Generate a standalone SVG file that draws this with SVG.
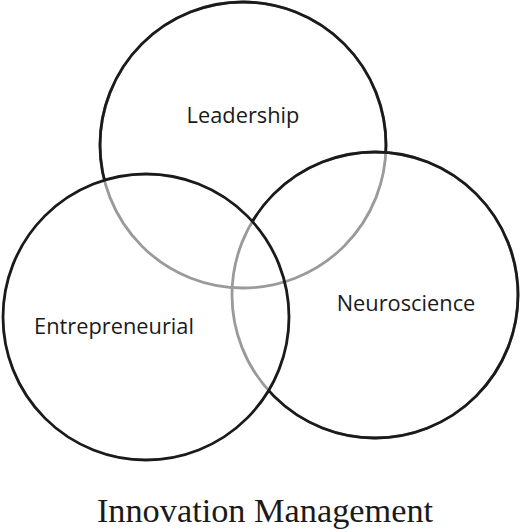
<svg xmlns="http://www.w3.org/2000/svg" width="520" height="532" viewBox="0 0 520 532">
  <style>
    .ring { fill: none; stroke-width: 2.8; }
    .dark { stroke: #1a1a1a; }
    .light { stroke: #9a9a9a; }
    .lbl { font-family: "Open Sans", "Noto Sans", sans-serif; font-size: 21.8px; fill: #1a1a1a; text-anchor: middle; }
    .title { font-family: "Liberation Serif", "Times New Roman", serif; font-size: 34.3px; fill: #1a1a1a; text-anchor: middle; }
  </style>
  <defs>
    <mask id="outsideLR" maskUnits="userSpaceOnUse" x="0" y="0" width="520" height="532">
      <rect x="0" y="0" width="520" height="532" fill="#fff"/>
      <circle cx="146" cy="317" r="143" fill="#000"/>
      <circle cx="375" cy="295" r="143" fill="#000"/>
    </mask>
    <mask id="outsideL" maskUnits="userSpaceOnUse" x="0" y="0" width="520" height="532">
      <rect x="0" y="0" width="520" height="532" fill="#fff"/>
      <circle cx="146" cy="317" r="143" fill="#000"/>
    </mask>
  </defs>
  <rect x="0" y="0" width="520" height="532" fill="#fff"/>
  <g id="leadership">
    <circle class="ring light" cx="243" cy="145" r="143"/>
    <circle class="ring dark" cx="243" cy="145" r="143" mask="url(#outsideLR)"/>
    <text class="lbl" x="243" y="123">Leadership</text>
  </g>
  <g id="neuroscience">
    <circle class="ring light" cx="375" cy="295" r="143"/>
    <circle class="ring dark" cx="375" cy="295" r="143" mask="url(#outsideL)"/>
    <text class="lbl" x="406" y="311">Neuroscience</text>
  </g>
  <g id="entrepreneurial">
    <circle class="ring dark" cx="146" cy="317" r="143"/>
    <text class="lbl" x="114" y="334">Entrepreneurial</text>
  </g>
  <g id="connectors"></g>
  <text class="title" x="265" y="522">Innovation Management</text>
</svg>
